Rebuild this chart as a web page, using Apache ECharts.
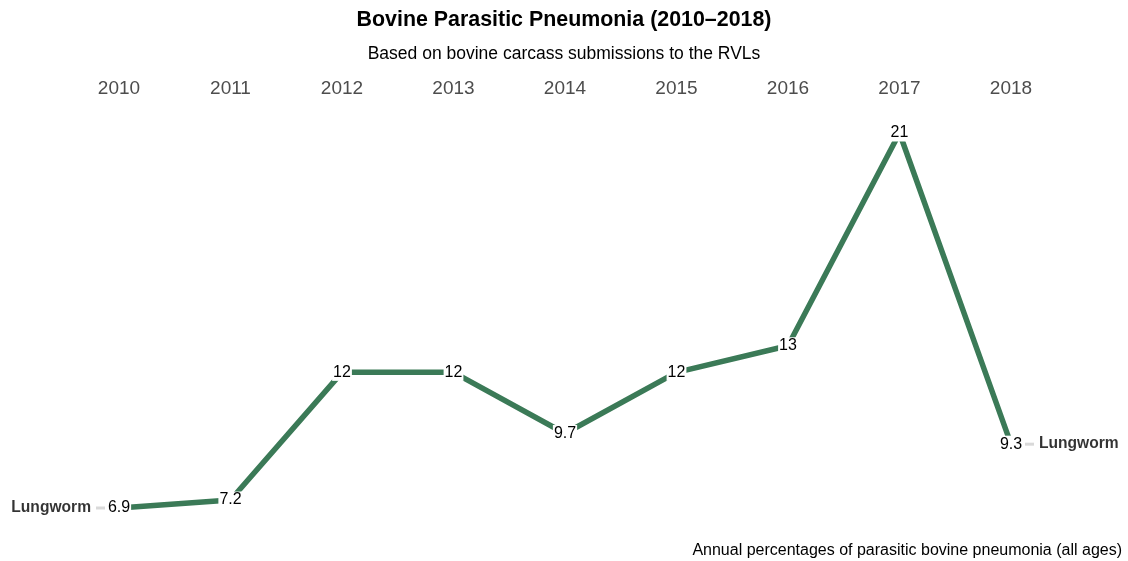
<!DOCTYPE html>
<html>
<head>
<meta charset="utf-8">
<script src="https://cdn.jsdelivr.net/npm/echarts@6/dist/echarts.min.js"></script>
<style>
  html, body { margin: 0; padding: 0; background: #fff; }
  #chart { width: 1128px; height: 561px; }
</style>
</head>
<body>
<div id="chart"></div>
<script>
// Annual percentages of parasitic bovine pneumonia (lungworm), 2010–2018
const years = ['2010', '2011', '2012', '2013', '2014', '2015', '2016', '2017', '2018'];
const lungworm = [6.9, 7.2, 12, 12, 9.7, 12, 13, 21, 9.3];
const seriesName = 'Lungworm';

const FONT = '"Liberation Sans", Arial, Helvetica, sans-serif';
const GREEN = '#3b7a57';

const chart = echarts.init(document.getElementById('chart'), null, { renderer: 'canvas' });

// Name tags at both ends of the line: "Lungworm" joined to the point by a short grey tick
const endRich = {
  n: { fontFamily: FONT, fontSize: 15.6, fontWeight: 'bold', color: '#000' },
  g: { width: 9, height: 3, backgroundColor: '#d0d0d0', verticalAlign: 'middle' },
  s: { width: 5 }
};

chart.setOption({
  animation: false,
  textStyle: { fontFamily: FONT },
  title: [
    {
      text: 'Bovine Parasitic Pneumonia (2010\u20132018)',
      left: 'center', top: 5,
      textStyle: { fontFamily: FONT, fontSize: 21.4, fontWeight: 'bold', color: '#000' }
    },
    {
      text: 'Based on bovine carcass submissions to the RVLs',
      left: 'center', top: 40,
      textStyle: { fontFamily: FONT, fontSize: 17.5, fontWeight: 'normal', color: '#000' }
    },
    {
      text: 'Annual percentages of parasitic bovine pneumonia (all ages)',
      right: 1, top: 538,
      textStyle: { fontFamily: FONT, fontSize: 16, fontWeight: 'normal', color: '#000' }
    }
  ],
  grid: { left: 119, right: 117, top: 133, bottom: 53, containLabel: false },
  xAxis: {
    type: 'category',
    position: 'top',
    data: years,
    boundaryGap: false,
    axisLine: { show: false },
    axisTick: { show: false },
    splitLine: { show: false },
    axisLabel: { margin: 35, fontFamily: FONT, fontSize: 19, color: '#4d4d4d' }
  },
  yAxis: {
    type: 'value',
    min: v => v.min,
    max: v => v.max,
    show: false,
    splitLine: { show: false }
  },
  series: [
    {
      name: seriesName,
      type: 'line',
      data: lungworm,
      symbol: 'circle',
      symbolSize: 1,
      itemStyle: { color: GREEN },
      lineStyle: { color: GREEN, width: 5.5 },
      z: 2,
      label: {
        show: true,
        position: 'inside',
        fontFamily: FONT,
        fontSize: 16,
        color: '#000',
        backgroundColor: '#fff',
        padding: [1, 1, 0, 1],
        formatter: p => String(p.value)
      }
    },
    {
      name: seriesName + '-tags',
      type: 'scatter',
      symbolSize: 0,
      silent: true,
      z: 1,
      data: [
        {
          value: [0, lungworm[0]],
          label: {
            show: true, position: 'left', distance: 14, color: '#000',
            textBorderWidth: 0,
            formatter: '{n|' + seriesName + '}{s|}{g|}', rich: endRich
          }
        },
        {
          value: [years.length - 1, lungworm[lungworm.length - 1]],
          label: {
            show: true, position: 'right', distance: 14, color: '#000',
            textBorderWidth: 0,
            formatter: '{g|}{s|}{n|' + seriesName + '}', rich: endRich
          }
        }
      ]
    }
  ]
});
</script>
</body>
</html>
